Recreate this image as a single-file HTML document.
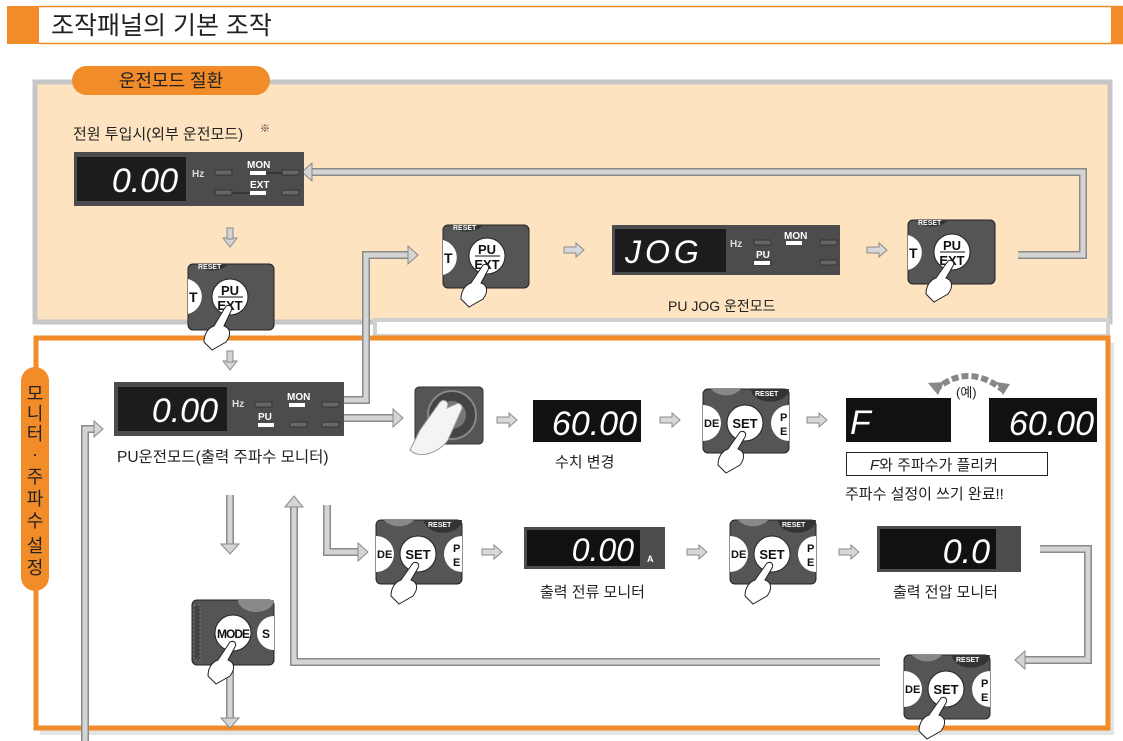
<!DOCTYPE html>
<html><head><meta charset="utf-8"><style>
html,body{margin:0;padding:0;background:#fff;}
svg{display:block;font-family:"Liberation Sans","Noto Sans CJK KR",sans-serif;}
.k{font-family:"Liberation Sans","Noto Sans CJK KR",sans-serif;fill:#222;}
.seg{font-family:"Liberation Sans",sans-serif;font-style:italic;fill:#fff;}
.bt{font-family:"Liberation Sans",sans-serif;font-weight:bold;fill:#111;}
</style></head><body>
<svg width="1123" height="741" viewBox="0 0 1123 741" xmlns="http://www.w3.org/2000/svg">
<defs>
<symbol id="ar" viewBox="0 0 22 16" width="22" height="16" overflow="visible">
<polygon points="1,5 13,5 13,1 21,8 13,15 13,11 1,11" fill="#d8d8d8" stroke="#8a8a8a" stroke-width="1"/>
</symbol>
</defs>

<!-- header -->
<rect x="7" y="6" width="32" height="38" fill="#f28c28"/>
<line x1="39" y1="6.5" x2="1123" y2="6.5" stroke="#f28c28" stroke-width="1.5"/>
<line x1="39" y1="43.5" x2="1123" y2="43.5" stroke="#f28c28" stroke-width="1.5"/>
<rect x="1111" y="6" width="12" height="38" fill="#f28c28"/>
<text x="51" y="34" class="k" font-size="25">조작패널의 기본 조작</text>

<!-- top box -->
<rect x="35" y="82" width="1075" height="240" fill="#fde3c0" stroke="#c6c6c6" stroke-width="5"/>
<rect x="375" y="320" width="733" height="16" fill="#fff" stroke="#d0d0d0" stroke-width="4"/>
<rect x="72" y="66" width="198" height="29" rx="14.5" fill="#f28c28"/>
<text x="171" y="87" class="k" font-size="18" text-anchor="middle">운전모드 절환</text>
<text x="73" y="139" class="k" font-size="15">전원 투입시(외부 운전모드)</text>
<text x="260" y="132" class="k" font-size="10">※</text>

<!-- bottom box -->
<rect x="40" y="343" width="1074" height="392" fill="#e4e4e4"/>
<rect x="36" y="338" width="1072" height="390" fill="#fff" stroke="#f28c28" stroke-width="5"/>
<rect x="21" y="367" width="28" height="224" rx="14" fill="#f28c28"/>
<g class="k" font-size="18" text-anchor="middle">
<text x="35" y="400">모</text><text x="35" y="420">니</text><text x="35" y="440">터</text>
<text x="35" y="460">·</text><text x="35" y="483">주</text><text x="35" y="505">파</text>
<text x="35" y="527">수</text><text x="35" y="552">설</text><text x="35" y="574">정</text>
</g>

<!-- connectors -->
<g fill="none" stroke-linejoin="miter">
<polyline points="338,400 366,400 366,255 410,255" stroke="#8a8a8a" stroke-width="8"/>
<polyline points="338,400 366,400 366,255 410,255" stroke="#d4d4d4" stroke-width="5"/>
<polyline points="1018,255 1083,255 1083,172 312,172" stroke="#8a8a8a" stroke-width="8"/>
<polyline points="1018,255 1083,255 1083,172 312,172" stroke="#d4d4d4" stroke-width="5"/>
<polyline points="327,505 327,552 360,552" stroke="#8a8a8a" stroke-width="8"/>
<polyline points="327,505 327,552 360,552" stroke="#d4d4d4" stroke-width="5"/>
<polyline points="1040,549 1088,549 1088,660 1025,660" stroke="#8a8a8a" stroke-width="8"/>
<polyline points="1040,549 1088,549 1088,660 1025,660" stroke="#d4d4d4" stroke-width="5"/>
<polyline points="880,662 294,662 294,505" stroke="#8a8a8a" stroke-width="8"/>
<polyline points="880,662 294,662 294,505" stroke="#d4d4d4" stroke-width="5"/>
<polyline points="85,741 85,429 95,429" stroke="#8a8a8a" stroke-width="8"/>
<polyline points="85,741 85,429 95,429" stroke="#d4d4d4" stroke-width="5"/>
<polyline points="338,418 395,418" stroke="#8a8a8a" stroke-width="8"/>
<polyline points="338,418 395,418" stroke="#d4d4d4" stroke-width="5"/>
<polyline points="230,495 230,545" stroke="#8a8a8a" stroke-width="8"/>
<polyline points="230,495 230,545" stroke="#d4d4d4" stroke-width="5"/>
<polyline points="230,670 230,720" stroke="#8a8a8a" stroke-width="8"/>
<polyline points="230,670 230,720" stroke="#d4d4d4" stroke-width="5"/>
</g>
<g fill="#d4d4d4" stroke="#8a8a8a" stroke-width="1">
<polygon points="408,246 418,255 408,264"/>
<polygon points="312,163 302,172 312,181"/>
<polygon points="358,543 368,552 358,561"/>
<polygon points="1025,651 1015,660 1025,669"/>
<polygon points="285,507 294,496 303,507"/>
<polygon points="94,421 103,429 94,437"/>
<polygon points="393,409 403,418 393,427"/>
<polygon points="221,544 230,554 239,544"/>
<polygon points="221,718 230,728 239,718"/>
<polygon points="223,238 230,247 237,238"/><rect x="227" y="228" width="6" height="11"/>
<polygon points="223,361 230,370 237,361"/><rect x="227" y="351" width="6" height="11"/>
</g>
<use href="#ar" x="563" y="242"/>
<use href="#ar" x="866" y="242"/>
<use href="#ar" x="496" y="412"/>
<use href="#ar" x="659" y="412"/>
<use href="#ar" x="806" y="412"/>
<use href="#ar" x="481" y="544"/>
<use href="#ar" x="686" y="544"/>
<use href="#ar" x="838" y="544"/>

<!-- display A top -->
<rect x="74" y="152" width="230" height="54" fill="#4c4c4c"/>
<rect x="77" y="157" width="109" height="44" fill="#1c1c1c"/>
<text x="178" y="192" class="seg" font-size="34" text-anchor="end">0.00</text>
<text x="192" y="177" font-size="10" font-weight="bold" fill="#ddd">Hz</text>
<g fill="#666" stroke="#333"><rect x="215" y="170" width="17" height="5" rx="1"/><rect x="282" y="170" width="17" height="5" rx="1"/><rect x="215" y="190" width="17" height="5" rx="1"/><rect x="282" y="190" width="17" height="5" rx="1"/></g>
<rect x="250" y="171" width="16" height="4" fill="#fff"/><rect x="250" y="191" width="16" height="4" fill="#fff"/>
<line x1="266" y1="173" x2="282" y2="173" stroke="#222"/><line x1="232" y1="193" x2="250" y2="193" stroke="#222"/>
<text x="247" y="168" font-size="10" font-weight="bold" fill="#fff">MON</text>
<text x="250" y="188" font-size="10" font-weight="bold" fill="#fff">EXT</text>

<!-- display JOG -->
<rect x="612" y="225" width="228" height="50" fill="#4c4c4c"/>
<rect x="615" y="229" width="111" height="43" fill="#1c1c1c"/>
<text x="625" y="263" class="seg" font-size="32" letter-spacing="4">JOG</text>
<text x="730" y="247" font-size="10" font-weight="bold" fill="#ddd">Hz</text>
<g fill="#666" stroke="#333"><rect x="754" y="240" width="17" height="5" rx="1"/><rect x="820" y="240" width="17" height="5" rx="1"/><rect x="754" y="260" width="17" height="5" rx="1"/><rect x="820" y="260" width="17" height="5" rx="1"/></g>
<rect x="786" y="241" width="16" height="4" fill="#fff"/><rect x="754" y="261" width="16" height="4" fill="#fff"/>
<text x="784" y="239" font-size="10" font-weight="bold" fill="#fff">MON</text>
<text x="756" y="258" font-size="10" font-weight="bold" fill="#fff">PU</text>
<text x="668" y="311" class="k" font-size="14">PU JOG 운전모드</text>

<!-- display PU bottom -->
<rect x="114" y="382" width="230" height="54" fill="#4c4c4c"/>
<rect x="118" y="387" width="109" height="44" fill="#1c1c1c"/>
<text x="218" y="422" class="seg" font-size="34" text-anchor="end">0.00</text>
<text x="232" y="407" font-size="10" font-weight="bold" fill="#ddd">Hz</text>
<g fill="#666" stroke="#333"><rect x="255" y="402" width="17" height="5" rx="1"/><rect x="322" y="402" width="17" height="5" rx="1"/><rect x="290" y="422" width="17" height="5" rx="1"/><rect x="322" y="422" width="17" height="5" rx="1"/></g>
<rect x="289" y="403" width="16" height="4" fill="#fff"/><rect x="258" y="423" width="16" height="4" fill="#fff"/>
<text x="287" y="400" font-size="10" font-weight="bold" fill="#fff">MON</text>
<text x="258" y="420" font-size="10" font-weight="bold" fill="#fff">PU</text>
<text x="117" y="462" class="k" font-size="15.5">PU운전모드(출력 주파수 모니터)</text>

<!-- dial -->
<rect x="415" y="387" width="68" height="57" rx="4" fill="#555" stroke="#333"/>
<circle cx="452" cy="415" r="24" fill="#444" stroke="#888" stroke-width="2"/>
<circle cx="452" cy="415" r="14" fill="#777"/>
<path d="M420,430 L440,402 C444,398 450,402 447,408 L456,404 C460,402 464,406 461,411 L448,440 C440,452 420,460 410,450 Z" fill="#f4f4f4" stroke="#999"/>

<!-- 60.00 -->
<rect x="533" y="400" width="108" height="42" fill="#111"/>
<text x="637" y="435" class="seg" font-size="34" text-anchor="end">60.00</text>
<text x="555" y="467" class="k" font-size="15">수치 변경</text>

<!-- F and 60.00 -->
<rect x="846" y="398" width="105" height="44" fill="#111"/>
<text x="850" y="434" class="seg" font-size="34">F</text>
<rect x="989" y="398" width="108" height="44" fill="#111"/>
<text x="1094" y="435" class="seg" font-size="34" text-anchor="end">60.00</text>
<path d="M935,390 Q968,362 1003,390" fill="none" stroke="#888" stroke-width="6" stroke-dasharray="7,3"/>
<polygon points="928,383 938,395 944,382" fill="#888"/><polygon points="996,382 1003,395 1010,384" fill="#888"/>
<text x="956" y="397" class="k" font-size="13">(예)</text>
<rect x="846.5" y="452.5" width="201" height="23" fill="#fff" stroke="#222"/>
<text x="870" y="470" class="k" font-size="15"><tspan font-style="italic">F</tspan>와 주파수가 플리커</text>
<text x="845" y="499" class="k" font-size="15">주파수 설정이 쓰기 완료!!</text>

<!-- 0.00 A -->
<rect x="524" y="527" width="141" height="42" fill="#4c4c4c"/>
<rect x="527" y="530" width="113" height="36" fill="#111"/>
<text x="634" y="561" class="seg" font-size="32" text-anchor="end">0.00</text>
<text x="647" y="562" font-size="9" font-weight="bold" fill="#fff">A</text>
<text x="540" y="597" class="k" font-size="15">출력 전류 모니터</text>

<!-- 0.0 -->
<rect x="877" y="526" width="144" height="46" fill="#4c4c4c"/>
<rect x="880" y="529" width="116" height="40" fill="#111"/>
<text x="990" y="563" class="seg" font-size="34" text-anchor="end">0.0</text>
<text x="893" y="597" class="k" font-size="15">출력 전압 모니터</text>

<!-- PU/EXT pads -->
<g transform="translate(188,264)">
<rect x="0" y="0" width="86" height="66" rx="5" fill="#555" stroke="#222"/>
<path d="M8,0 A18,12 0 0 0 40,0 Z" fill="#333"/><text x="10" y="5" font-size="7" font-weight="bold" fill="#fff">RESET</text>
<path d="M0,15 A18,18 0 0 1 0,50 Z" fill="#fff"/><text x="1" y="38" class="bt" font-size="14">T</text>
<circle cx="42" cy="33" r="18" fill="#fff" stroke="#222"/>
<text x="42" y="31" class="bt" font-size="13" text-anchor="middle">PU</text>
<line x1="30" y1="33" x2="55" y2="33" stroke="#111"/>
<text x="42" y="46" class="bt" font-size="13" text-anchor="middle">EXT</text>
<path d="M38,42 C42,40 45,43 43,47 L36,62 C42,64 44,70 38,78 L24,86 L16,78 C16,70 20,64 26,62 Z" fill="#fff" stroke="#222"/>
</g>
<g transform="translate(443,225)">
<rect x="0" y="0" width="86" height="63" rx="5" fill="#555" stroke="#222"/>
<path d="M8,0 A18,12 0 0 0 40,0 Z" fill="#333"/><text x="10" y="5" font-size="7" font-weight="bold" fill="#fff">RESET</text>
<path d="M0,15 A18,18 0 0 1 0,50 Z" fill="#fff"/><text x="1" y="38" class="bt" font-size="14">T</text>
<circle cx="44" cy="31" r="18" fill="#fff" stroke="#222"/>
<text x="44" y="29" class="bt" font-size="13" text-anchor="middle">PU</text>
<line x1="32" y1="31" x2="57" y2="31" stroke="#111"/>
<text x="44" y="44" class="bt" font-size="13" text-anchor="middle">EXT</text>
<path d="M40,40 C44,38 47,41 45,45 L38,58 C44,60 46,66 40,74 L26,82 L18,74 C18,66 22,60 28,58 Z" fill="#fff" stroke="#222"/>
</g>
<g transform="translate(908,220)">
<rect x="0" y="0" width="87" height="64" rx="5" fill="#555" stroke="#222"/>
<path d="M8,0 A18,12 0 0 0 40,0 Z" fill="#333"/><text x="10" y="5" font-size="7" font-weight="bold" fill="#fff">RESET</text>
<path d="M0,15 A18,18 0 0 1 0,50 Z" fill="#fff"/><text x="1" y="38" class="bt" font-size="14">T</text>
<circle cx="44" cy="32" r="18" fill="#fff" stroke="#222"/>
<text x="44" y="30" class="bt" font-size="13" text-anchor="middle">PU</text>
<line x1="32" y1="32" x2="57" y2="32" stroke="#111"/>
<text x="44" y="45" class="bt" font-size="13" text-anchor="middle">EXT</text>
<path d="M40,41 C44,39 47,42 45,46 L38,58 C44,60 46,66 40,74 L26,82 L18,74 C18,66 22,60 28,58 Z" fill="#fff" stroke="#222"/>
</g>

<!-- SET pads -->
<g transform="translate(703,389)">
<rect x="0" y="0" width="86" height="64" rx="5" fill="#555" stroke="#222"/>
<path d="M8,0 A18,14 0 0 0 38,0 Z" fill="#888"/><path d="M48,0 A18,12 0 0 0 86,0 Z" fill="#333"/>
<text x="52" y="7" font-size="7" font-weight="bold" fill="#fff">RESET</text>
<path d="M0,16 A17,17 0 0 1 0,52 Z" fill="#fff"/><text x="1" y="38" class="bt" font-size="11">DE</text>
<circle cx="42" cy="34" r="18" fill="#fff" stroke="#222"/><text x="42" y="39" class="bt" font-size="13" text-anchor="middle">SET</text>
<path d="M86,16 A17,17 0 0 0 86,52 Z" fill="#fff"/><text x="77" y="32" class="bt" font-size="11">P</text><text x="77" y="46" class="bt" font-size="11">E</text>
<path d="M37,43 C41,41 44,44 42,48 L35,60 C41,62 43,68 37,76 L23,84 L15,76 C15,68 19,62 25,60 Z" fill="#fff" stroke="#222"/>
</g>
<g transform="translate(376,520)">
<rect x="0" y="0" width="86" height="64" rx="5" fill="#555" stroke="#222"/>
<path d="M8,0 A18,14 0 0 0 38,0 Z" fill="#888"/><path d="M48,0 A18,12 0 0 0 86,0 Z" fill="#333"/>
<text x="52" y="7" font-size="7" font-weight="bold" fill="#fff">RESET</text>
<path d="M0,16 A17,17 0 0 1 0,52 Z" fill="#fff"/><text x="1" y="38" class="bt" font-size="11">DE</text>
<circle cx="42" cy="34" r="18" fill="#fff" stroke="#222"/><text x="42" y="39" class="bt" font-size="13" text-anchor="middle">SET</text>
<path d="M86,16 A17,17 0 0 0 86,52 Z" fill="#fff"/><text x="77" y="32" class="bt" font-size="11">P</text><text x="77" y="46" class="bt" font-size="11">E</text>
<path d="M37,43 C41,41 44,44 42,48 L35,60 C41,62 43,68 37,76 L23,84 L15,76 C15,68 19,62 25,60 Z" fill="#fff" stroke="#222"/>
</g>
<g transform="translate(730,520)">
<rect x="0" y="0" width="86" height="64" rx="5" fill="#555" stroke="#222"/>
<path d="M8,0 A18,14 0 0 0 38,0 Z" fill="#888"/><path d="M48,0 A18,12 0 0 0 86,0 Z" fill="#333"/>
<text x="52" y="7" font-size="7" font-weight="bold" fill="#fff">RESET</text>
<path d="M0,16 A17,17 0 0 1 0,52 Z" fill="#fff"/><text x="1" y="38" class="bt" font-size="11">DE</text>
<circle cx="42" cy="34" r="18" fill="#fff" stroke="#222"/><text x="42" y="39" class="bt" font-size="13" text-anchor="middle">SET</text>
<path d="M86,16 A17,17 0 0 0 86,52 Z" fill="#fff"/><text x="77" y="32" class="bt" font-size="11">P</text><text x="77" y="46" class="bt" font-size="11">E</text>
<path d="M37,43 C41,41 44,44 42,48 L35,60 C41,62 43,68 37,76 L23,84 L15,76 C15,68 19,62 25,60 Z" fill="#fff" stroke="#222"/>
</g>
<g transform="translate(904,655)">
<rect x="0" y="0" width="86" height="64" rx="5" fill="#555" stroke="#222"/>
<path d="M8,0 A18,14 0 0 0 38,0 Z" fill="#888"/><path d="M48,0 A18,12 0 0 0 86,0 Z" fill="#333"/>
<text x="52" y="7" font-size="7" font-weight="bold" fill="#fff">RESET</text>
<path d="M0,16 A17,17 0 0 1 0,52 Z" fill="#fff"/><text x="1" y="38" class="bt" font-size="11">DE</text>
<circle cx="42" cy="34" r="18" fill="#fff" stroke="#222"/><text x="42" y="39" class="bt" font-size="13" text-anchor="middle">SET</text>
<path d="M86,16 A17,17 0 0 0 86,52 Z" fill="#fff"/><text x="77" y="32" class="bt" font-size="11">P</text><text x="77" y="46" class="bt" font-size="11">E</text>
<path d="M37,43 C41,41 44,44 42,48 L35,60 C41,62 43,68 37,76 L23,84 L15,76 C15,68 19,62 25,60 Z" fill="#fff" stroke="#222"/>
</g>

<!-- MODE pad -->
<g transform="translate(192,600)">
<rect x="0" y="0" width="82" height="65" rx="5" fill="#555" stroke="#222"/>
<path d="M46,0 A18,12 0 0 0 82,0 Z" fill="#888"/>
<rect x="2" y="5" width="6" height="55" fill="#444" stroke="#777" stroke-dasharray="2,2"/>
<circle cx="41" cy="33" r="18" fill="#fff" stroke="#222"/><text x="41" y="38" class="bt" font-size="12" text-anchor="middle" letter-spacing="-1">MODE</text>
<path d="M82,16 A17,17 0 0 0 82,50 Z" fill="#fff"/><text x="70" y="38" class="bt" font-size="12">S</text>
<path d="M38,42 C42,40 45,43 43,47 L36,60 C42,62 44,68 38,76 L24,84 L16,76 C16,68 20,62 26,60 Z" fill="#fff" stroke="#222"/>
</g>
</svg>
</body></html>
